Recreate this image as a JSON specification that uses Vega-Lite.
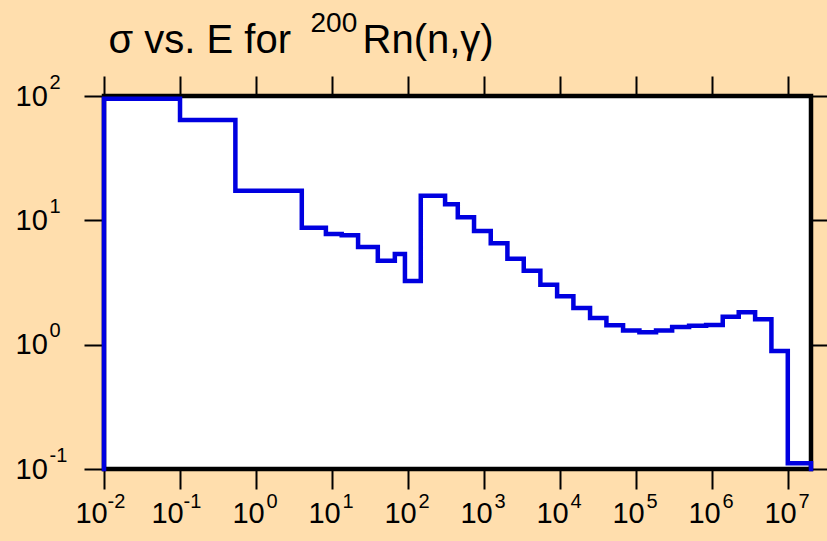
{
  "$schema": "https://vega.github.io/schema/vega-lite/v6.json",
  "width": 707,
  "height": 373,
  "autosize": "none",
  "padding": {"left": 104, "top": 96, "right": 16, "bottom": 72},
  "background": "#FFDEAD",
  "config": {
    "view": {"fill": "white", "stroke": "black", "strokeWidth": 4.5},
    "axis": {
      "grid": false,
      "domain": false,
      "tickColor": "black",
      "tickWidth": 2,
      "labelColor": "black",
      "labelFont": "Liberation Sans",
      "titleFont": "Liberation Sans",
      "titleColor": "black",
      "titleFontWeight": "normal",
      "titleAlign": "left",
      "titleAnchor": null,
      "titleBaseline": "alphabetic",
      "titleAngle": 0
    }
  },
  "data": {
    "values": [
      {"i": 0, "E": 0.01, "sigma": 0.1},
      {"i": 1, "E": 0.01, "sigma": 95},
      {"i": 2, "E": 0.1, "sigma": 64},
      {"i": 3, "E": 0.535, "sigma": 17.3},
      {"i": 4, "E": 4.0, "sigma": 8.7},
      {"i": 5, "E": 8.3, "sigma": 7.76},
      {"i": 6, "E": 13.4, "sigma": 7.57},
      {"i": 7, "E": 22, "sigma": 6.1},
      {"i": 8, "E": 40, "sigma": 4.73},
      {"i": 9, "E": 67, "sigma": 5.36},
      {"i": 10, "E": 91, "sigma": 3.25},
      {"i": 11, "E": 147, "sigma": 15.8},
      {"i": 12, "E": 307, "sigma": 13.5},
      {"i": 13, "E": 451, "sigma": 10.6},
      {"i": 14, "E": 738, "sigma": 8.2},
      {"i": 15, "E": 1224, "sigma": 6.53},
      {"i": 16, "E": 2028, "sigma": 4.91},
      {"i": 17, "E": 3327, "sigma": 3.93},
      {"i": 18, "E": 5505, "sigma": 3.03},
      {"i": 19, "E": 9140, "sigma": 2.45},
      {"i": 20, "E": 14970, "sigma": 1.97},
      {"i": 21, "E": 24800, "sigma": 1.64},
      {"i": 22, "E": 40700, "sigma": 1.43},
      {"i": 23, "E": 67400, "sigma": 1.30},
      {"i": 24, "E": 110600, "sigma": 1.26},
      {"i": 25, "E": 183000, "sigma": 1.30},
      {"i": 26, "E": 298000, "sigma": 1.39},
      {"i": 27, "E": 498000, "sigma": 1.42},
      {"i": 28, "E": 834000, "sigma": 1.44},
      {"i": 29, "E": 1380000, "sigma": 1.68},
      {"i": 30, "E": 2240000, "sigma": 1.82},
      {"i": 31, "E": 3680000, "sigma": 1.60},
      {"i": 32, "E": 6030000, "sigma": 0.89},
      {"i": 33, "E": 9900000, "sigma": 0.111},
      {"i": 34, "E": 20000000, "sigma": 0.111},
      {"i": 35, "E": 20000000, "sigma": 0.1}
    ]
  },
  "layer": [
    {
      "mark": {"type": "line", "interpolate": "step-after", "color": "#0000E0", "strokeWidth": 4.5, "strokeJoin": "miter", "strokeCap": "square"},
      "encoding": {
        "x": {"field": "E", "type": "quantitative",
          "scale": {"type": "log", "domain": [0.01, 20000000], "nice": false},
          "axis": {"orient": "bottom", "title": null, "values": [0.01, 0.1, 1, 10, 100, 1000, 10000, 100000, 1000000, 10000000],
            "labelExpr": "'10'", "tickSize": 20, "labelFontSize": 29, "labelPadding": 10,
            "labelAlign": "center", "labelBaseline": "top",
            "labelOffset": {"condition": {"test": "datum.value < 1", "value": -13}, "value": -8}}},
        "y": {"field": "sigma", "type": "quantitative",
          "scale": {"type": "log", "domain": [0.1, 100], "nice": false},
          "axis": {"orient": "left", "title": null, "values": [0.1, 1, 10, 100],
            "labelExpr": "'10'", "tickSize": 20, "labelFontSize": 29, "labelPadding": 69,
            "labelAlign": "left", "labelBaseline": "middle"}},
        "order": {"field": "i", "type": "quantitative"}
      }
    },
    {
      "mark": {"type": "line", "opacity": 0},
      "encoding": {
        "x": {"field": "E", "type": "quantitative",
          "scale": {"type": "log", "domain": [0.01, 20000000], "nice": false},
          "axis": {"orient": "bottom", "title": null, "values": [0.01, 0.1, 1, 10, 100, 1000, 10000, 100000, 1000000, 10000000],
            "labelExpr": "'' + round(log(datum.value) / LN10)", "ticks": false, "tickSize": 0,
            "labelFontSize": 20, "labelPadding": 22, "labelAlign": "left", "labelBaseline": "top",
            "labelOffset": {"condition": {"test": "datum.value < 1", "value": 3}, "value": 10}}},
        "y": {"field": "sigma", "type": "quantitative",
          "scale": {"type": "log", "domain": [0.1, 100], "nice": false},
          "axis": {"orient": "left", "title": null, "values": [0.1, 1, 10, 100],
            "labelExpr": "'' + round(log(datum.value) / LN10)", "ticks": false, "tickSize": 0,
            "labelFontSize": 20, "labelPadding": 55, "labelAlign": "left", "labelBaseline": "middle", "labelOffset": -14}},
        "order": {"field": "i", "type": "quantitative"}
      }
    },
    {
      "mark": {"type": "line", "opacity": 0},
      "encoding": {
        "x": {"field": "E", "type": "quantitative",
          "scale": {"type": "log", "domain": [0.01, 20000000], "nice": false},
          "axis": {"orient": "top", "values": [0.01, 0.1, 1, 10, 100, 1000, 10000, 100000, 1000000, 10000000],
            "labels": false, "tickSize": 20,
            "title": "σ vs. E for", "titleFontSize": 40, "titleX": 4, "titleY": -44}},
        "y": {"field": "sigma", "type": "quantitative",
          "scale": {"type": "log", "domain": [0.1, 100], "nice": false},
          "axis": {"orient": "right", "title": null, "values": [0.1, 1, 10, 100], "labels": false, "tickSize": 20}},
        "order": {"field": "i", "type": "quantitative"}
      }
    },
    {
      "mark": {"type": "line", "opacity": 0},
      "encoding": {
        "x": {"field": "E", "type": "quantitative",
          "scale": {"type": "log", "domain": [0.01, 20000000], "nice": false},
          "axis": {"orient": "top", "values": [1], "labels": false, "ticks": false, "tickSize": 0,
            "title": "200", "titleFontSize": 28, "titleX": 206, "titleY": -65}},
        "y": {"field": "sigma", "type": "quantitative",
          "scale": {"type": "log", "domain": [0.1, 100], "nice": false}, "axis": null},
        "order": {"field": "i", "type": "quantitative"}
      }
    },
    {
      "mark": {"type": "line", "opacity": 0},
      "encoding": {
        "x": {"field": "E", "type": "quantitative",
          "scale": {"type": "log", "domain": [0.01, 20000000], "nice": false},
          "axis": {"orient": "top", "values": [1], "labels": false, "ticks": false, "tickSize": 0,
            "title": "Rn(n,γ)", "titleFontSize": 40, "titleX": 258, "titleY": -44}},
        "y": {"field": "sigma", "type": "quantitative",
          "scale": {"type": "log", "domain": [0.1, 100], "nice": false}, "axis": null},
        "order": {"field": "i", "type": "quantitative"}
      }
    }
  ],
  "resolve": {"axis": {"x": "independent", "y": "independent"}}
}
